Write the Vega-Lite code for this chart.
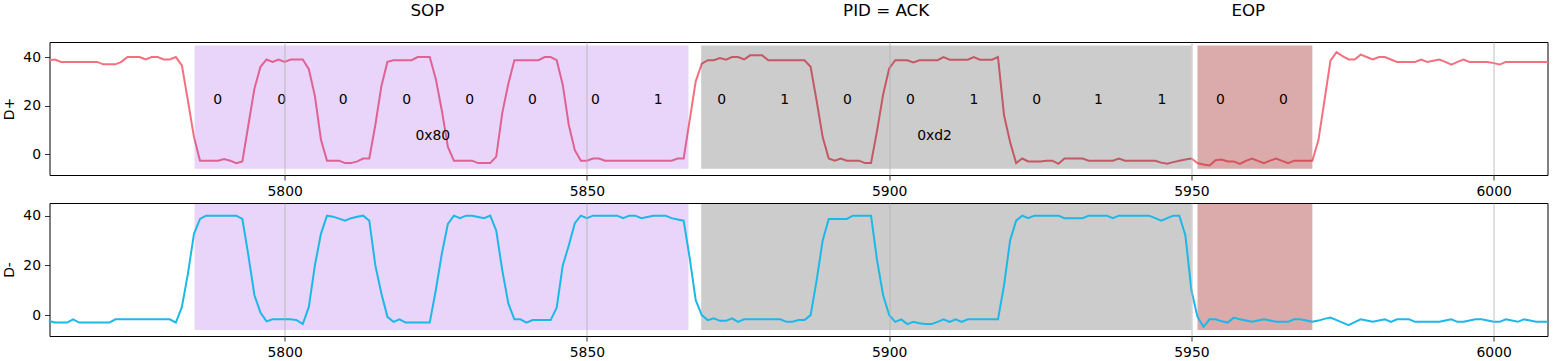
{
"$schema": "https://vega.github.io/schema/vega-lite/v6.json",
"padding": {"left": 1.5, "top": 2, "right": 8, "bottom": 2},
"background": "white",
"spacing": 3,
"config": {
  "view": {"stroke": "black", "strokeWidth": 1},
  "font": "DejaVu Sans",
  "axis": {"domain": false, "tickColor": "black", "tickSize": 5, "tickWidth": 0.8, "labelFont": "DejaVu Sans", "labelFontSize": 13.9, "labelColor": "black", "labelPadding": 4, "titleFont": "DejaVu Sans", "titleFontSize": 13.9, "titleFontWeight": "normal", "titleColor": "black", "grid": false}
},
"resolve": {"scale": {"x": "independent", "y": "independent"}},
"datasets": {
"sig": [
{"t":5761,"dp":38.7,"dm":-2.4},{"t":5762,"dp":39,"dm":-3},{"t":5763,"dp":38,"dm":-3},{"t":5764,"dp":38,"dm":-3},{"t":5765,"dp":38,"dm":-1.7},{"t":5766,"dp":38,"dm":-3},{"t":5767,"dp":38,"dm":-3},{"t":5768,"dp":38,"dm":-3},{"t":5769,"dp":38,"dm":-3},{"t":5770,"dp":37,"dm":-3},
{"t":5771,"dp":37,"dm":-3},{"t":5772,"dp":37,"dm":-1.7},{"t":5773,"dp":38,"dm":-1.7},{"t":5774,"dp":40,"dm":-1.7},{"t":5775,"dp":40,"dm":-1.7},{"t":5776,"dp":40,"dm":-1.7},{"t":5777,"dp":39,"dm":-1.7},{"t":5778,"dp":40,"dm":-1.7},{"t":5779,"dp":40,"dm":-1.7},{"t":5780,"dp":39,"dm":-1.7},
{"t":5781,"dp":39,"dm":-1.7},{"t":5782,"dp":40,"dm":-3},{"t":5783,"dp":36.6,"dm":3.3},{"t":5784,"dp":22,"dm":16.7},{"t":5785,"dp":7,"dm":32.7},{"t":5786,"dp":-2.7,"dm":38.7},{"t":5787,"dp":-2.7,"dm":40},{"t":5788,"dp":-2.7,"dm":40},{"t":5789,"dp":-2.7,"dm":40},{"t":5790,"dp":-2,"dm":40},
{"t":5791,"dp":-2.7,"dm":40},{"t":5792,"dp":-3.7,"dm":40},{"t":5793,"dp":-3,"dm":38.7},{"t":5794,"dp":12,"dm":24},{"t":5795,"dp":27,"dm":8},{"t":5796,"dp":36,"dm":1},{"t":5797,"dp":39,"dm":-2.5},{"t":5798,"dp":38,"dm":-1.7},{"t":5799,"dp":39,"dm":-1.7},{"t":5800,"dp":38,"dm":-1.7},
{"t":5801,"dp":39,"dm":-1.7},{"t":5802,"dp":39,"dm":-2},{"t":5803,"dp":39,"dm":-3.6},{"t":5804,"dp":35,"dm":3.3},{"t":5805,"dp":24,"dm":20},{"t":5806,"dp":6,"dm":32.7},{"t":5807,"dp":-2.7,"dm":40},{"t":5808,"dp":-2.7,"dm":39.6},{"t":5809,"dp":-2.7,"dm":38.8},{"t":5810,"dp":-3.7,"dm":38},
{"t":5811,"dp":-3.7,"dm":39},{"t":5812,"dp":-3,"dm":39.6},{"t":5813,"dp":-1.8,"dm":40},{"t":5814,"dp":-1.8,"dm":38},{"t":5815,"dp":12,"dm":20},{"t":5816,"dp":28,"dm":8.7},{"t":5817,"dp":38,"dm":-0.7},{"t":5818,"dp":38.7,"dm":-2.7},{"t":5819,"dp":38.7,"dm":-1.7},{"t":5820,"dp":38.7,"dm":-3},
{"t":5821,"dp":38.7,"dm":-3},{"t":5822,"dp":40,"dm":-3},{"t":5823,"dp":40,"dm":-3},{"t":5824,"dp":40,"dm":-3},{"t":5825,"dp":31,"dm":10},{"t":5826,"dp":18,"dm":24.7},{"t":5827,"dp":3,"dm":36.7},{"t":5828,"dp":-2.7,"dm":40},{"t":5829,"dp":-2.7,"dm":39},{"t":5830,"dp":-2.7,"dm":40},
{"t":5831,"dp":-2.7,"dm":40},{"t":5832,"dp":-3.7,"dm":39.5},{"t":5833,"dp":-3.7,"dm":39},{"t":5834,"dp":-3.7,"dm":40},{"t":5835,"dp":-1,"dm":34},{"t":5836,"dp":17,"dm":18},{"t":5837,"dp":29,"dm":4.7},{"t":5838,"dp":38.7,"dm":-1.7},{"t":5839,"dp":38.7,"dm":-1.7},{"t":5840,"dp":38.7,"dm":-3},
{"t":5841,"dp":38.7,"dm":-2},{"t":5842,"dp":38.7,"dm":-2},{"t":5843,"dp":40,"dm":-2},{"t":5844,"dp":40,"dm":-2},{"t":5845,"dp":38.7,"dm":3},{"t":5846,"dp":28.6,"dm":20},{"t":5847,"dp":12,"dm":28},{"t":5848,"dp":1.6,"dm":37},{"t":5849,"dp":-2.7,"dm":40},{"t":5850,"dp":-2.7,"dm":39},
{"t":5851,"dp":-1.8,"dm":40},{"t":5852,"dp":-1.8,"dm":40},{"t":5853,"dp":-2.7,"dm":40},{"t":5854,"dp":-2.7,"dm":40},{"t":5855,"dp":-2.7,"dm":40},{"t":5856,"dp":-2.7,"dm":39},{"t":5857,"dp":-2.7,"dm":40},{"t":5858,"dp":-2.7,"dm":40},{"t":5859,"dp":-2.7,"dm":39},{"t":5860,"dp":-2.7,"dm":39.5},
{"t":5861,"dp":-2.7,"dm":40},{"t":5862,"dp":-2.7,"dm":40},{"t":5863,"dp":-2.7,"dm":40},{"t":5864,"dp":-2.7,"dm":39},{"t":5865,"dp":-1.8,"dm":38.5},{"t":5866,"dp":-1.8,"dm":38},{"t":5867,"dp":14,"dm":23},{"t":5868,"dp":30,"dm":6},{"t":5869,"dp":37.3,"dm":0},{"t":5870,"dp":38.7,"dm":-2},
{"t":5871,"dp":38.7,"dm":-1.3},{"t":5872,"dp":39.6,"dm":-2.3},{"t":5873,"dp":38.9,"dm":-2.3},{"t":5874,"dp":40,"dm":-1.3},{"t":5875,"dp":40,"dm":-2.7},{"t":5876,"dp":39,"dm":-1.7},{"t":5877,"dp":40.7,"dm":-1.7},{"t":5878,"dp":40.7,"dm":-1.7},{"t":5879,"dp":40.7,"dm":-1.7},{"t":5880,"dp":38.7,"dm":-1.7},
{"t":5881,"dp":38.7,"dm":-1.7},{"t":5882,"dp":38.7,"dm":-1.7},{"t":5883,"dp":38.7,"dm":-2.7},{"t":5884,"dp":38.7,"dm":-2.7},{"t":5885,"dp":38.7,"dm":-2},{"t":5886,"dp":38.7,"dm":-2},{"t":5887,"dp":36,"dm":0},{"t":5888,"dp":22,"dm":14},{"t":5889,"dp":7,"dm":30},{"t":5890,"dp":-1.8,"dm":38.7},
{"t":5891,"dp":-2.7,"dm":38.7},{"t":5892,"dp":-1.8,"dm":38.7},{"t":5893,"dp":-2.7,"dm":38.7},{"t":5894,"dp":-2.7,"dm":40},{"t":5895,"dp":-2.7,"dm":40},{"t":5896,"dp":-3.7,"dm":40},{"t":5897,"dp":-3.7,"dm":40},{"t":5898,"dp":9.7,"dm":22},{"t":5899,"dp":24.6,"dm":8},{"t":5900,"dp":35.3,"dm":0},
{"t":5901,"dp":38.7,"dm":-2.7},{"t":5902,"dp":38.7,"dm":-1.7},{"t":5903,"dp":38.7,"dm":-3.6},{"t":5904,"dp":37.8,"dm":-2.7},{"t":5905,"dp":38.7,"dm":-3.3},{"t":5906,"dp":38.7,"dm":-3.6},{"t":5907,"dp":38.7,"dm":-3.6},{"t":5908,"dp":38.7,"dm":-2.7},{"t":5909,"dp":40,"dm":-1.7},{"t":5910,"dp":38.9,"dm":-2.7},
{"t":5911,"dp":38.9,"dm":-1.7},{"t":5912,"dp":38.9,"dm":-2.7},{"t":5913,"dp":38.9,"dm":-1.7},{"t":5914,"dp":40,"dm":-1.7},{"t":5915,"dp":38.9,"dm":-1.7},{"t":5916,"dp":38.9,"dm":-1.7},{"t":5917,"dp":38.9,"dm":-1.7},{"t":5918,"dp":40,"dm":-1.7},{"t":5919,"dp":16,"dm":12},{"t":5920,"dp":5,"dm":30},
{"t":5921,"dp":-3.7,"dm":38},{"t":5922,"dp":-1.8,"dm":40},{"t":5923,"dp":-3,"dm":39},{"t":5924,"dp":-3,"dm":40},{"t":5925,"dp":-3,"dm":40},{"t":5926,"dp":-2.7,"dm":40},{"t":5927,"dp":-2.7,"dm":40},{"t":5928,"dp":-4,"dm":40},{"t":5929,"dp":-1.8,"dm":39},{"t":5930,"dp":-1.8,"dm":39},
{"t":5931,"dp":-1.8,"dm":39},{"t":5932,"dp":-1.8,"dm":39},{"t":5933,"dp":-2.7,"dm":40},{"t":5934,"dp":-2.7,"dm":40},{"t":5935,"dp":-2.7,"dm":40},{"t":5936,"dp":-2.7,"dm":40},{"t":5937,"dp":-2.7,"dm":39},{"t":5938,"dp":-1.8,"dm":40},{"t":5939,"dp":-2.7,"dm":40},{"t":5940,"dp":-2.7,"dm":40},
{"t":5941,"dp":-2.7,"dm":40},{"t":5942,"dp":-2.7,"dm":40},{"t":5943,"dp":-2.7,"dm":40},{"t":5944,"dp":-2.7,"dm":39},{"t":5945,"dp":-3.5,"dm":38},{"t":5946,"dp":-4,"dm":39},{"t":5947,"dp":-3.3,"dm":40},{"t":5948,"dp":-2.7,"dm":40},{"t":5949,"dp":-2.2,"dm":32},{"t":5950,"dp":-1.8,"dm":10},
{"t":5951,"dp":-3.7,"dm":-0.7},{"t":5952,"dp":-4.3,"dm":-4.7},{"t":5953,"dp":-4.7,"dm":-1.7},{"t":5954,"dp":-2.5,"dm":-1.7},{"t":5955,"dp":-2.2,"dm":-2.5},{"t":5956,"dp":-3,"dm":-3},{"t":5957,"dp":-3,"dm":-1},{"t":5958,"dp":-4,"dm":-1.7},{"t":5959,"dp":-2.8,"dm":-2.2},{"t":5960,"dp":-1.8,"dm":-2.7},
{"t":5961,"dp":-2.8,"dm":-2.2},{"t":5962,"dp":-3.7,"dm":-1.7},{"t":5963,"dp":-2.7,"dm":-2.2},{"t":5964,"dp":-1.8,"dm":-2.7},{"t":5965,"dp":-2.8,"dm":-2.7},{"t":5966,"dp":-3.7,"dm":-2.7},{"t":5967,"dp":-2.7,"dm":-1.7},{"t":5968,"dp":-2.7,"dm":-1.7},{"t":5969,"dp":-2.7,"dm":-2.2},{"t":5970,"dp":-2.7,"dm":-2.7},
{"t":5971,"dp":5.7,"dm":-2.2},{"t":5972,"dp":22,"dm":-1.5},{"t":5973,"dp":38.5,"dm":-1},{"t":5974,"dp":42,"dm":-2},{"t":5975,"dp":40.4,"dm":-3},{"t":5976,"dp":39,"dm":-4},{"t":5977,"dp":39,"dm":-2.8},{"t":5978,"dp":41,"dm":-1.7},{"t":5979,"dp":40,"dm":-2.2},{"t":5980,"dp":39,"dm":-2.7},
{"t":5981,"dp":40,"dm":-2.2},{"t":5982,"dp":40,"dm":-1.7},{"t":5983,"dp":39,"dm":-2.7},{"t":5984,"dp":38,"dm":-1.7},{"t":5985,"dp":38,"dm":-1.7},{"t":5986,"dp":38,"dm":-1.7},{"t":5987,"dp":38,"dm":-2.7},{"t":5988,"dp":39,"dm":-2.7},{"t":5989,"dp":38,"dm":-2.7},{"t":5990,"dp":38.5,"dm":-2.7},
{"t":5991,"dp":39,"dm":-2.7},{"t":5992,"dp":38,"dm":-2.2},{"t":5993,"dp":36.9,"dm":-1.7},{"t":5994,"dp":38,"dm":-2.7},{"t":5995,"dp":39,"dm":-2.7},{"t":5996,"dp":38,"dm":-2.2},{"t":5997,"dp":38,"dm":-1.7},{"t":5998,"dp":38,"dm":-1.7},{"t":5999,"dp":38,"dm":-2.2},{"t":6000,"dp":37.5,"dm":-2.7},
{"t":6001,"dp":36.9,"dm":-2.7},{"t":6002,"dp":38,"dm":-1.7},{"t":6003,"dp":38,"dm":-2.2},{"t":6004,"dp":38,"dm":-2.7},{"t":6005,"dp":38,"dm":-1.7},{"t":6006,"dp":38,"dm":-2.2},{"t":6007,"dp":38,"dm":-2.7},{"t":6008,"dp":38,"dm":-2.7},{"t":6009,"dp":38,"dm":-2.7}
],
"spans": [
{"kind":"SOP","x0":5785.1,"x1":5866.8,"lo":-6,"hi":44.8},
{"kind":"PID","x0":5868.9,"x1":5950,"lo":-6,"hi":44.8},
{"kind":"EOP","x0":5951,"x1":5970,"lo":-6,"hi":44.8}
],
"bits": [
{"t":5788.9,"bit":"0"},{"t":5799.5,"bit":"0"},{"t":5809.7,"bit":"0"},{"t":5820.2,"bit":"0"},{"t":5830.6,"bit":"0"},{"t":5841.0,"bit":"0"},{"t":5851.4,"bit":"0"},{"t":5861.8,"bit":"1"},
{"t":5872.3,"bit":"0"},{"t":5882.7,"bit":"1"},{"t":5893.1,"bit":"0"},{"t":5903.5,"bit":"0"},{"t":5914.0,"bit":"1"},{"t":5924.4,"bit":"0"},{"t":5934.6,"bit":"1"},{"t":5945.1,"bit":"1"},
{"t":5954.8,"bit":"0"},{"t":5965.2,"bit":"0"}
],
"bytes": [{"t":5824.5,"label":"0x80"},{"t":5907.5,"label":"0xd2"}],
"titles": [{"t":5823.6,"label":"SOP"},{"t":5899.5,"label":"PID = ACK"},{"t":5959.4,"label":"EOP"}]
},
"vconcat": [
{
"width": 1498, "height": 133,
"encoding": {
  "x": {"field": "t", "type": "quantitative", "scale": {"domain": [5761.1, 6008.9], "nice": false, "zero": false}, "axis": {"values": [5800, 5850, 5900, 5950, 6000], "format": "d", "title": null, "grid": true, "gridColor": "#b0b0b0", "gridWidth": 0.8, "zindex": 1}}
},
"layer": [
  {"data": {"name": "sig"}, "mark": {"type": "line", "color": "#f5707f", "strokeWidth": 2},
   "encoding": {"y": {"field": "dp", "type": "quantitative", "scale": {"domain": [-8.6, 46.2], "nice": false, "zero": false}, "axis": {"values": [0, 20, 40], "title": "D+", "titlePadding": 6}}}},
  {"data": {"name": "spans"}, "transform": [{"filter": "datum.kind == 'SOP'"}], "mark": {"type": "rect", "color": "#8a2be2", "opacity": 0.2},
   "encoding": {"x": {"field": "x0", "type": "quantitative"}, "x2": {"field": "x1"}, "y": {"field": "lo", "type": "quantitative"}, "y2": {"field": "hi"}}},
  {"data": {"name": "spans"}, "transform": [{"filter": "datum.kind == 'PID'"}], "mark": {"type": "rect", "color": "#000000", "opacity": 0.2},
   "encoding": {"x": {"field": "x0", "type": "quantitative"}, "x2": {"field": "x1"}, "y": {"field": "lo", "type": "quantitative"}, "y2": {"field": "hi"}}},
  {"data": {"name": "spans"}, "transform": [{"filter": "datum.kind == 'EOP'"}], "mark": {"type": "rect", "color": "#a52a2a", "opacity": 0.4},
   "encoding": {"x": {"field": "x0", "type": "quantitative"}, "x2": {"field": "x1"}, "y": {"field": "lo", "type": "quantitative"}, "y2": {"field": "hi"}}},
  {"data": {"name": "bits"}, "mark": {"type": "text", "fontSize": 13.9, "color": "black", "baseline": "middle", "align": "center"},
   "encoding": {"y": {"datum": 22.5}, "text": {"field": "bit"}}},
  {"data": {"name": "bytes"}, "mark": {"type": "text", "fontSize": 13.9, "color": "black", "baseline": "middle", "align": "center"},
   "encoding": {"y": {"datum": 7.5}, "text": {"field": "label"}}},
  {"data": {"name": "titles"}, "mark": {"type": "text", "fontSize": 16.7, "color": "black", "baseline": "middle", "align": "center"},
   "encoding": {"y": {"datum": 59}, "text": {"field": "label"}}}
]
},
{
"width": 1498, "height": 133,
"encoding": {
  "x": {"field": "t", "type": "quantitative", "scale": {"domain": [5761.1, 6008.9], "nice": false, "zero": false}, "axis": {"values": [5800, 5850, 5900, 5950, 6000], "format": "d", "title": null, "grid": true, "gridColor": "#b0b0b0", "gridWidth": 0.8, "zindex": 1}}
},
"layer": [
  {"data": {"name": "spans"}, "transform": [{"filter": "datum.kind == 'SOP'"}], "mark": {"type": "rect", "color": "#8a2be2", "opacity": 0.2},
   "encoding": {"x": {"field": "x0", "type": "quantitative"}, "x2": {"field": "x1"}, "y": {"field": "lo", "type": "quantitative", "scale": {"domain": [-8.4, 45.1], "nice": false, "zero": false}, "axis": {"values": [0, 20, 40], "title": "D-", "titlePadding": 6}}, "y2": {"field": "hi"}}},
  {"data": {"name": "spans"}, "transform": [{"filter": "datum.kind == 'PID'"}], "mark": {"type": "rect", "color": "#000000", "opacity": 0.2},
   "encoding": {"x": {"field": "x0", "type": "quantitative"}, "x2": {"field": "x1"}, "y": {"field": "lo", "type": "quantitative"}, "y2": {"field": "hi"}}},
  {"data": {"name": "spans"}, "transform": [{"filter": "datum.kind == 'EOP'"}], "mark": {"type": "rect", "color": "#a52a2a", "opacity": 0.4},
   "encoding": {"x": {"field": "x0", "type": "quantitative"}, "x2": {"field": "x1"}, "y": {"field": "lo", "type": "quantitative"}, "y2": {"field": "hi"}}},
  {"data": {"name": "sig"}, "mark": {"type": "line", "color": "#1cb8e8", "strokeWidth": 2},
   "encoding": {"y": {"field": "dm", "type": "quantitative"}}}
]
}
]
}
